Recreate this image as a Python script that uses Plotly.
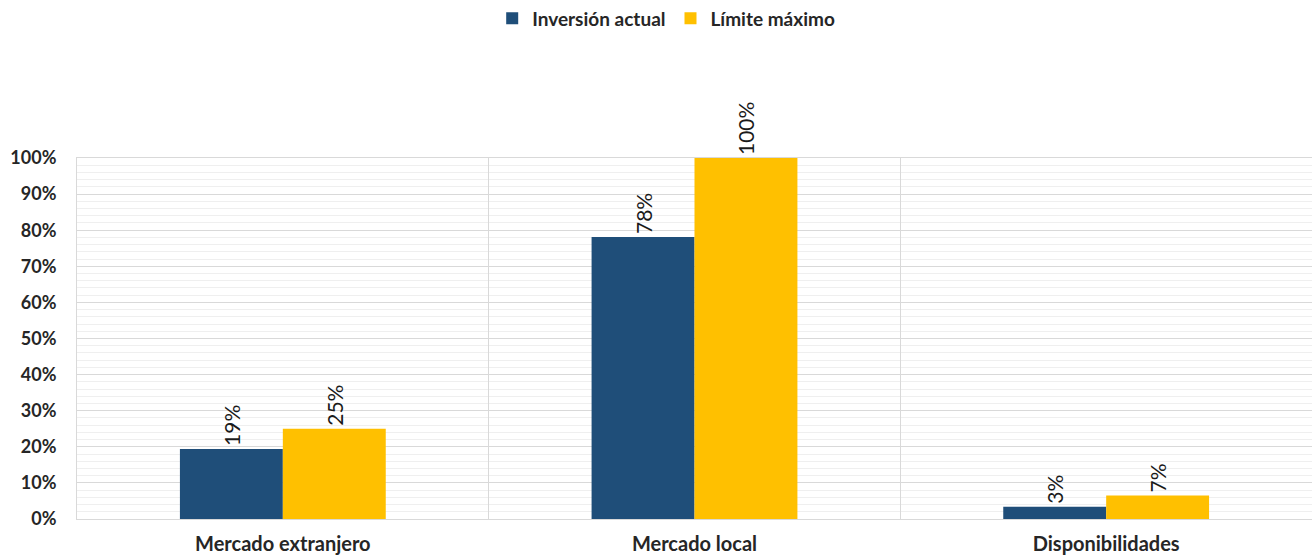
import plotly.graph_objects as go

categories = ["Mercado extranjero", "Mercado local", "Disponibilidades"]
inversion_actual = [0.194, 0.781, 0.034]
limite_maximo = [0.25, 1.00, 0.065]
labels_actual = ["19%", "78%", "3%"]
labels_limite = ["25%", "100%", "7%"]

FONT = "Lato, Open Sans, sans-serif"

fig = go.Figure()
fig.add_trace(go.Bar(
    x=categories, y=inversion_actual, name="Inversión actual",
    marker=dict(color="#1F4E79", line=dict(width=0)),
    text=labels_actual, textposition="outside", textangle=-90,
    textfont=dict(size=21, color="#1a1a1a", family=FONT), cliponaxis=False,
))
fig.add_trace(go.Bar(
    x=categories, y=limite_maximo, name="Límite máximo",
    marker=dict(color="#FFC000", line=dict(width=0)),
    text=labels_limite, textposition="outside", textangle=-90,
    textfont=dict(size=21, color="#1a1a1a", family=FONT), cliponaxis=False,
))

fig.update_layout(
    width=1314, height=558,
    margin=dict(l=77, r=2, t=158, b=39, autoexpand=False),
    paper_bgcolor="white", plot_bgcolor="white",
    barmode="group", bargap=0.5, bargroupgap=0,
    font=dict(family=FONT, color="#262626"),
    legend=dict(orientation="h", xref="container", x=0.507, xanchor="center",
                yref="container", y=0.967, yanchor="middle",
                font=dict(size=19, family=FONT, color="#262626", weight="bold"),
                itemwidth=30, traceorder="normal"),
    uniformtext=dict(mode=False),
)
fig.update_xaxes(
    type="category", tickson="boundaries", showgrid=True, gridcolor="#d9d9d9", gridwidth=1,
    showline=True, linecolor="#d9d9d9", mirror=True, ticks="", ticklabelstandoff=7,
    tickfont=dict(size=20, family=FONT, color="#262626", weight="bold"),
)
fig.update_yaxes(
    range=[0, 1.0], dtick=0.1, tickformat=".0%", showgrid=True, gridcolor="#d9d9d9",
    minor=dict(dtick=0.02, showgrid=True, gridcolor="#efefef"),
    showline=True, linecolor="#d9d9d9", ticks="", zeroline=False, ticklabelstandoff=16,
    tickfont=dict(size=18, family=FONT, color="#262626", weight="bold"),
)

fig.write_html("out.html")
